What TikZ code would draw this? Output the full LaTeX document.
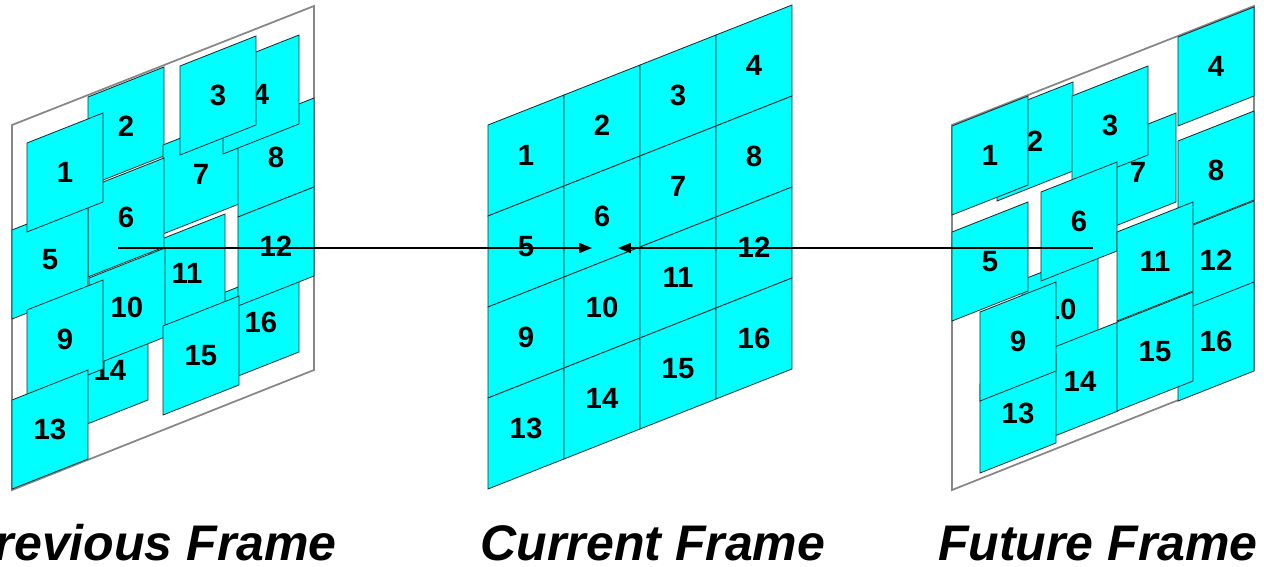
\documentclass[tikz,border=0pt]{standalone}
\usepackage{fontspec}
\setmainfont{Liberation Sans}
\usetikzlibrary{arrows.meta,calc}
\definecolor{tilecyan}{RGB}{0,255,255}
\definecolor{framegray}{RGB}{135,135,135}
\definecolor{edgedark}{RGB}{25,45,45}
\tikzset{
  tilebox/.style={fill=tilecyan, draw=edgedark, line width=0.7pt, line join=miter},
  numlabel/.style={font=\fontsize{25}{25}\selectfont\bfseries, text=black, inner sep=0pt},
  framebox/.style={draw=framegray, line width=1.5pt, fill=white},
  caption/.style={font=\fontsize{42.7}{44}\selectfont\bfseries\itshape, inner sep=0pt},
  motion/.style={draw=black, line width=1.5pt, -{Triangle[length=11pt,width=8.5pt]}},
}
% #1 name, #2 x, #3 y (top-left corner), #4 label, #5 height
\newcommand{\mkblock}[5]{%
  \filldraw[tilebox] (#2,#3) -- ++(76,-30) -- ++(0,#5) -- ++(-76,30) -- cycle;
  \node[numlabel] (#1) at ($(#2,#3)+(38,{#5/2-15})$) {#4};}
\begin{document}
\begin{tikzpicture}[x=0.03cm,y=-0.03cm]
\useasboundingbox (0,0) rectangle (1264,567);

% ---------- Previous frame ----------
\draw[framebox] (12,125) -- (314,6) -- (314,370) -- (12,490) -- cycle;
\mkblock{p16}{223}{293}{16}{89}
\mkblock{p14}{72}{341}{14}{89}
\mkblock{p11}{149}{244}{11}{89}
\mkblock{p10}{89}{278}{10}{89}
\mkblock{p2}{88}{97}{2}{89}
\mkblock{p7}{163}{145}{7}{89}
\mkblock{p8}{238}{128}{8}{89}
\mkblock{p4}{223}{65}{4}{89}
\mkblock{p3}{180}{66}{3}{89}
\mkblock{p12}{238}{217}{12}{89}
\mkblock{p15}{163}{326}{15}{89}
\mkblock{p6}{88}{188}{6}{89}
\mkblock{p5}{12}{230}{5}{89}
\mkblock{p1}{27}{143}{1}{89}
\mkblock{p9}{27}{310}{9}{89}
\mkblock{p13}{12}{400}{13}{89}

% ---------- Current frame ----------
\foreach \r in {0,...,3}{
  \foreach \c in {0,...,3}{
    \pgfmathtruncatemacro{\n}{4*\r+\c+1}
    \pgfmathsetmacro{\xx}{488+76*\c}
    \pgfmathsetmacro{\yy}{125-30*\c+91*\r}
    \mkblock{c\n}{\xx}{\yy}{\n}{91}
  }
}

% ---------- Future frame ----------
\draw[framebox] (952,125) -- (1254,6) -- (1254,370) -- (952,490) -- cycle;
\mkblock{f2}{997}{112}{2}{89}
\mkblock{f1}{952}{126}{1}{89}
\mkblock{f7}{1100}{143}{7}{89}
\mkblock{f3}{1072}{96}{3}{89}
\mkblock{f4}{1178}{37}{4}{89}
\mkblock{f8}{1178}{141}{8}{89}
\mkblock{f12}{1178}{231}{12}{89}
\mkblock{f16}{1178}{312}{16}{89}
\mkblock{f10}{1022}{280}{10}{89}
\mkblock{f14}{1042}{352}{14}{89}
\mkblock{f13}{980}{384}{13}{89}
\mkblock{f9}{980}{312}{9}{89}
\mkblock{f6}{1041}{192}{6}{89}
\mkblock{f5}{952}{232}{5}{89}
\mkblock{f11}{1117}{232}{11}{89}
\mkblock{f15}{1117}{322}{15}{89}

% ---------- Motion vectors ----------
\coordinate (pstart) at (118,248);
\coordinate (fstart) at (1093,248);
\coordinate (ctipL) at (592,248);
\coordinate (ctipR) at (618,248);
\draw[motion] (pstart) -- (ctipL);
\draw[motion] (fstart) -- (ctipR);

% ---------- Captions ----------
\node[caption, anchor=base east] (prevlbl) at (337,560) {Previous Frame};
\node[caption, anchor=base] (curlbl) at (653,560) {Current Frame};
\node[caption, anchor=base] (futlbl) at (1098,560) {Future Frame};
\end{tikzpicture}
\end{document}
